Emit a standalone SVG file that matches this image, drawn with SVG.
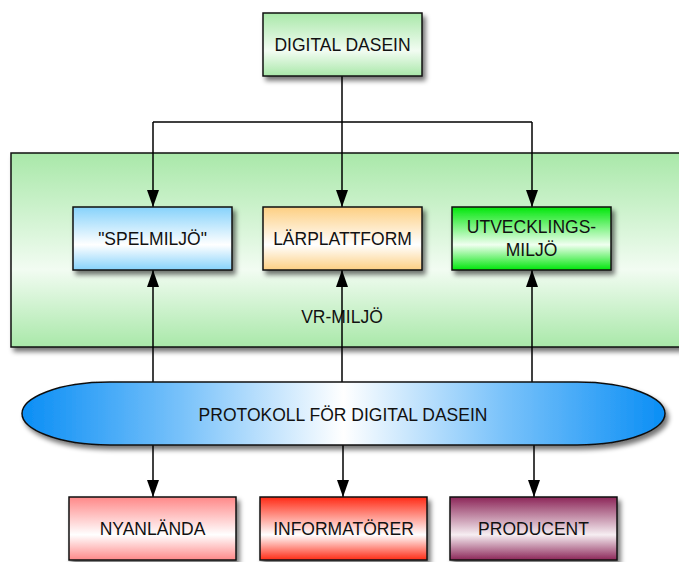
<svg xmlns="http://www.w3.org/2000/svg" width="679" height="562" viewBox="0 0 679 562">
<defs>
<style>
.box{stroke:#111;stroke-width:1.5;filter:url(#sh)}
.lbl{font-family:"Liberation Sans",Arial,sans-serif;font-size:17.5px;fill:#111;text-anchor:middle}
.con{stroke:#000;stroke-width:1.5;fill:none;marker-end:url(#ah)}
.wire{stroke:#000;stroke-width:1.5;fill:none}
</style>
<filter id="sh" x="-10%" y="-20%" width="130%" height="160%">
<feGaussianBlur in="SourceAlpha" stdDeviation="2.5"/>
<feOffset dx="3" dy="4" result="b"/>
<feComponentTransfer><feFuncA type="linear" slope="0.55"/></feComponentTransfer>
<feMerge><feMergeNode/><feMergeNode in="SourceGraphic"/></feMerge>
</filter>
<marker id="ah" markerUnits="userSpaceOnUse" markerWidth="17" markerHeight="12" refX="17" refY="6" viewBox="0 0 17 12" orient="auto">
<path d="M0,0 L17,6 L0,12 Z" fill="#000"/>
</marker>
<linearGradient id="gGreen" x1="0" y1="0" x2="0" y2="1">
<stop offset="0" stop-color="#a9e8a9"/><stop offset="0.6" stop-color="#f2fcf2"/><stop offset="1" stop-color="#a9e8a9"/>
</linearGradient>
<linearGradient id="gBlue" x1="0" y1="0" x2="0" y2="1">
<stop offset="0" stop-color="#86d2fb"/><stop offset="0.6" stop-color="#ffffff"/><stop offset="1" stop-color="#86d2fb"/>
</linearGradient>
<linearGradient id="gOrange" x1="0" y1="0" x2="0" y2="1">
<stop offset="0" stop-color="#fdcf82"/><stop offset="0.6" stop-color="#ffffff"/><stop offset="1" stop-color="#fdcf82"/>
</linearGradient>
<linearGradient id="gLime" x1="0" y1="0" x2="0" y2="1">
<stop offset="0" stop-color="#00e60a"/><stop offset="0.6" stop-color="#f0fff0"/><stop offset="1" stop-color="#00e60a"/>
</linearGradient>
<linearGradient id="gPink" x1="0" y1="0" x2="0" y2="1">
<stop offset="0" stop-color="#ff8888"/><stop offset="0.6" stop-color="#ffffff"/><stop offset="1" stop-color="#ff8888"/>
</linearGradient>
<linearGradient id="gRed" x1="0" y1="0" x2="0" y2="1">
<stop offset="0" stop-color="#ff2a14"/><stop offset="0.6" stop-color="#ffffff"/><stop offset="1" stop-color="#ff2a14"/>
</linearGradient>
<linearGradient id="gPurple" x1="0" y1="0" x2="0" y2="1">
<stop offset="0" stop-color="#8c2658"/><stop offset="0.6" stop-color="#f6eef2"/><stop offset="1" stop-color="#8c2658"/>
</linearGradient>
<linearGradient id="gPill" x1="0" y1="0" x2="1" y2="0">
<stop offset="0" stop-color="#0a8ef5"/><stop offset="0.25" stop-color="#79c2fa"/><stop offset="0.5" stop-color="#ffffff"/><stop offset="0.75" stop-color="#79c2fa"/><stop offset="1" stop-color="#0a8ef5"/>
</linearGradient>
</defs>
<rect width="679" height="562" fill="#ffffff"/>

<g id="vr-miljo">
<rect class="box" x="11" y="153" width="680" height="194" fill="url(#gGreen)"/>
<text class="lbl" x="342" y="323">VR-MILJÖ</text>
</g>

<g id="connectors">
<polyline class="wire" points="342,76 342,122"/>
<polyline class="wire" points="153,122 532,122"/>
<line class="con" x1="153" y1="122" x2="153" y2="207"/>
<line class="con" x1="342" y1="122" x2="342" y2="207"/>
<line class="con" x1="532" y1="122" x2="532" y2="207"/>
<line class="con" x1="153" y1="382" x2="153" y2="270"/>
<line class="con" x1="342" y1="382" x2="342" y2="270"/>
<line class="con" x1="532" y1="382" x2="532" y2="270"/>
<line class="con" x1="153" y1="445" x2="153" y2="497"/>
<line class="con" x1="343" y1="445" x2="343" y2="497"/>
<line class="con" x1="534" y1="445" x2="534" y2="497"/>
</g>

<g id="digital-dasein">
<rect class="box" x="263" y="13" width="159" height="63" fill="url(#gGreen)"/>
<text class="lbl" x="342.5" y="51">DIGITAL DASEIN</text>
</g>

<g id="spelmiljo">
<rect class="box" x="73" y="207" width="159" height="63" fill="url(#gBlue)"/>
<text class="lbl" x="152.5" y="245">"SPELMILJÖ"</text>
</g>

<g id="larplattform">
<rect class="box" x="263" y="207" width="159" height="63" fill="url(#gOrange)"/>
<text class="lbl" x="342.5" y="245">LÄRPLATTFORM</text>
</g>

<g id="utvecklingsmiljo">
<rect class="box" x="452" y="207" width="159" height="63" fill="url(#gLime)"/>
<text class="lbl" x="531.5" y="233">UTVECKLINGS-</text>
<text class="lbl" x="531.5" y="256">MILJÖ</text>
</g>

<g id="protokoll">
<path class="box" d="M110,382 H577 C630,382 665,398 665,413.5 C665,429 630,445 577,445 H110 C57,445 22,429 22,413.5 C22,398 57,382 110,382 Z" fill="url(#gPill)"/>
<text class="lbl" x="343" y="421">PROTOKOLL FÖR DIGITAL DASEIN</text>
</g>

<g id="nyanlanda">
<rect class="box" x="69" y="497" width="167" height="63" fill="url(#gPink)"/>
<text class="lbl" x="152.5" y="535">NYANLÄNDA</text>
</g>

<g id="informatorer">
<rect class="box" x="260" y="497" width="167" height="63" fill="url(#gRed)"/>
<text class="lbl" x="343.5" y="535">INFORMATÖRER</text>
</g>

<g id="producent">
<rect class="box" x="450" y="497" width="167" height="63" fill="url(#gPurple)"/>
<text class="lbl" x="533.5" y="535">PRODUCENT</text>
</g>
</svg>
